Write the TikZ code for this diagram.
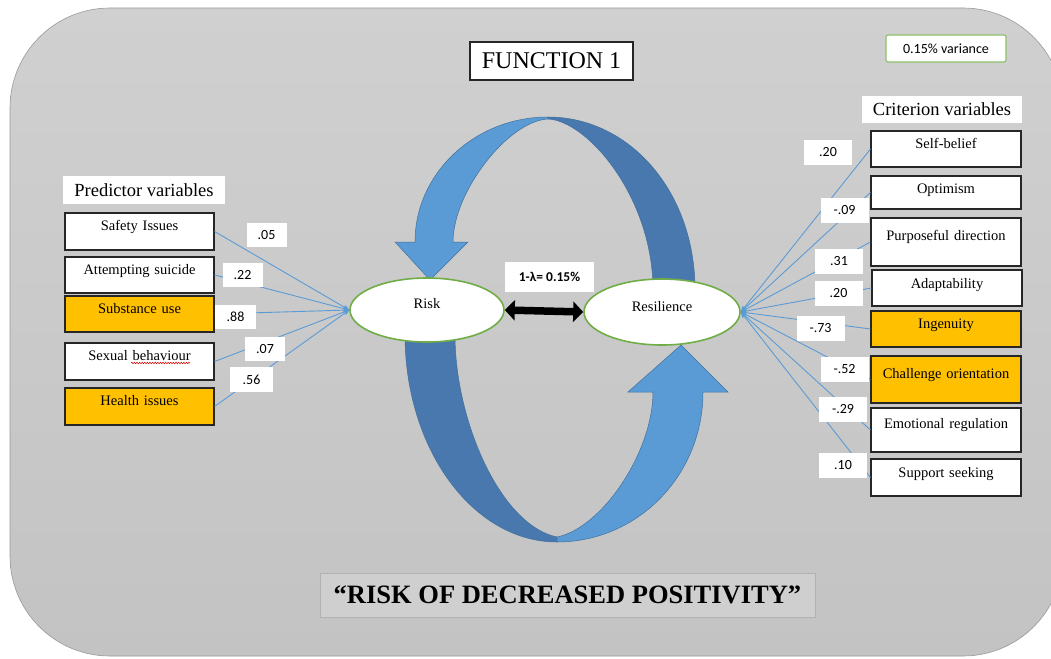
\documentclass[tikz,border=0pt]{standalone}
\usepackage{fontspec}
\setmainfont{Liberation Serif}
\newfontfamily\calib{Carlito}
\usetikzlibrary{arrows.meta,shapes.geometric,decorations.pathmorphing}
\definecolor{bgtop}{HTML}{D0D0D0}
\definecolor{bgbot}{HTML}{C3C3C3}
\definecolor{amber}{HTML}{FFC000}
\definecolor{linkblue}{HTML}{5B9BD5}
\definecolor{lightband}{HTML}{5B9BD5}
\definecolor{darkband}{HTML}{4878AE}
\definecolor{bandedge}{HTML}{41719C}
\definecolor{ovalgreen}{HTML}{70AD47}
\definecolor{varframe}{HTML}{8CC068}
\definecolor{titlefill}{HTML}{CFCFCF}

\begin{document}
\begin{tikzpicture}[x=1pt,y=-1pt,
  varbox/.style 2 args={draw=black!85, line width=1.1pt, fill=white, inner sep=0pt,
    text width=149pt, align=center, text height=#1, text depth=#2,
    font=\fontsize{14.5}{16}\selectfont},
  hl/.style={fill=amber},
  coef/.style={fill=white, inner sep=0pt, minimum width=40pt, minimum height=24pt,
    font=\calib\fontsize{14}{16}\selectfont},
  rcoef/.style={coef, minimum width=48pt, minimum height=25pt},
  heading/.style={fill=white, inner sep=0pt, font=\fontsize{18.5}{20}\selectfont},
  oval/.style={ellipse, draw=ovalgreen, line width=1.6pt, fill=white, inner sep=0pt,
    text height=10pt, text depth=13pt, font=\fontsize{14.5}{16}\selectfont},
  link/.style={draw=linkblue, line width=0.9pt, -{Stealth[length=6pt,width=5pt]}},
  lightpart/.style={fill=lightband, draw=bandedge, line width=0.5pt},
  darkpart/.style={fill=darkband, draw=bandedge, line width=0.5pt},
]
\useasboundingbox (0,0) rectangle (1051,658);
\begin{scope}
\clip (0,0) rectangle (1051,658);
\fill[white] (0,0) rectangle (1051,658);
% rounded grey panel
\path[top color=bgtop, bottom color=bgbot, draw=black!40, line width=0.6pt,
  rounded corners=100pt] (10,8) rectangle (1063,656);
\end{scope}

% upper circular arrow (Resilience -> Risk)
\path[darkpart] (548,117) .. controls (629,117) and (695,191) .. (695,290)
  -- (653,290) .. controls (653,198) and (588,121) .. (548,119) -- cycle;
\path[lightpart] (548,117) .. controls (475,117) and (415,173) .. (415,242)
  -- (395,242) -- (430,280) -- (468,242) -- (453,242)
  .. controls (453,192) and (508,121) .. (548,119) -- cycle;

% lower circular arrow (Risk -> Resilience)
\path[darkpart] (405,335) .. controls (405,449) and (473,542) .. (557,542)
  -- (557,537) .. controls (500,525) and (455,420) .. (455,335) -- cycle;
\path[lightpart] (557,542) .. controls (638,542) and (703,475) .. (703,392)
  -- (728,392) -- (681,345) -- (628,392) -- (653,392)
  .. controls (653,452) and (602,528) .. (557,537) -- cycle;

% latent variables
\node[oval, minimum width=154pt, minimum height=64pt] (Risk) at (427,310) {Risk};
\node[oval, minimum width=156pt, minimum height=66pt, text depth=12pt] (Res) at (662,312) {Resilience};
\draw[line width=7.5pt, {Triangle[length=10pt,width=20pt]}-{Triangle[length=10pt,width=20pt]}]
  (Risk.east) -- (Res.west);
\node[coef, minimum width=89pt, minimum height=30pt,
  font=\calib\bfseries\fontsize{13.5}{16}\selectfont] (lam) at (549.5,277) {1-λ= 0.15\%};

% headings
\node[draw=black!85, line width=1.2pt, fill=white, minimum width=163pt, minimum height=38pt,
  inner sep=0pt, font=\fontsize{24}{26}\selectfont] (fn) at (551.5,61) {FUNCTION 1};
\node[draw=varframe, line width=1.1pt, fill=white, rounded corners=2pt, minimum width=120pt,
  minimum height=27pt, inner sep=0pt, font=\calib\fontsize{14}{16}\selectfont] (var) at (946,48.5) {0.15\% variance};
\node[heading, minimum width=162pt, minimum height=28pt] (pred) at (144,190) {Predictor variables};
\node[heading, minimum width=160pt, minimum height=27pt] (crit) at (942,109.5) {Criterion variables};
\node[draw=black!30, line width=0.8pt, fill=titlefill, minimum width=495pt, minimum height=44pt,
  inner sep=0pt, font=\bfseries\fontsize{26.5}{28}\selectfont] (title) at (567.5,595)
  {“RISK OF DECREASED POSITIVITY”};

% predictor variables
\node[varbox={17pt}{20pt}] (p1) at (139.5,231.5) {Safety Issues};
\node[varbox={17pt}{19pt}] (p2) at (139.5,275) {Attempting suicide};
\node[varbox={17pt}{19pt}, hl] (p3) at (139.5,314) {Substance use};
\node[varbox={17pt}{20pt}] (p4) at (139.5,361.5) {Sexual behaviour};
\node[varbox={17pt}{20pt}, hl] (p5) at (139.5,406.5) {Health issues};
\draw[red!85!black, line width=0.5pt, decorate,
  decoration={snake, amplitude=0.8pt, segment length=2.6pt}] (131,363) -- (190,363);

% criterion variables
\node[varbox={17pt}{19pt}, text width=150pt] (q1) at (946,149) {Self-belief};
\node[varbox={17pt}{16pt}, text width=150pt] (q2) at (946,192.5) {Optimism};
\node[varbox={22pt}{26pt}, text width=150pt] (q3) at (946,242) {Purposeful direction};
\node[varbox={18pt}{18pt}, text width=150pt] (q4) at (947,288) {Adaptability};
\node[varbox={17pt}{19pt}, text width=150pt, hl] (q5) at (946,329) {Ingenuity};
\node[varbox={22pt}{25pt}, text width=150pt, hl] (q6) at (946,379.5) {Challenge orientation};
\node[varbox={20pt}{24pt}, text width=150pt] (q7) at (946,430) {Emotional regulation};
\node[varbox={18pt}{19pt}, text width=150pt] (q8) at (946,477.5) {Support seeking};

% canonical loadings
\foreach \p in {p1,p2,p3,p4,p5} \draw[link] (\p.east) -- (Risk.west);
\foreach \q in {q1,q2,q3,q4,q5,q6,q7,q8} \draw[link] (\q.west) -- (Res.east);

\node[coef] (c1) at (266.5,235) {.05};
\node[coef] (c2) at (242.5,275) {.22};
\node[coef, minimum width=41pt] (c3) at (235.5,317) {.88};
\node[coef] (c4) at (265,349) {.07};
\node[coef, minimum width=43pt, minimum height=25pt] (c5) at (251.5,379.5) {.56};

\node[rcoef] (d1) at (828,152.5) {.20};
\node[rcoef] (d2) at (844.5,210.5) {-.09};
\node[rcoef] (d3) at (839,261.5) {.31};
\node[rcoef] (d4) at (838.5,293) {.20};
\node[rcoef] (d5) at (820.5,328.5) {-.73};
\node[rcoef] (d6) at (844.5,369) {-.52};
\node[rcoef] (d7) at (843,409.5) {-.29};
\node[rcoef] (d8) at (843,465) {.10};
\end{tikzpicture}
\end{document}
